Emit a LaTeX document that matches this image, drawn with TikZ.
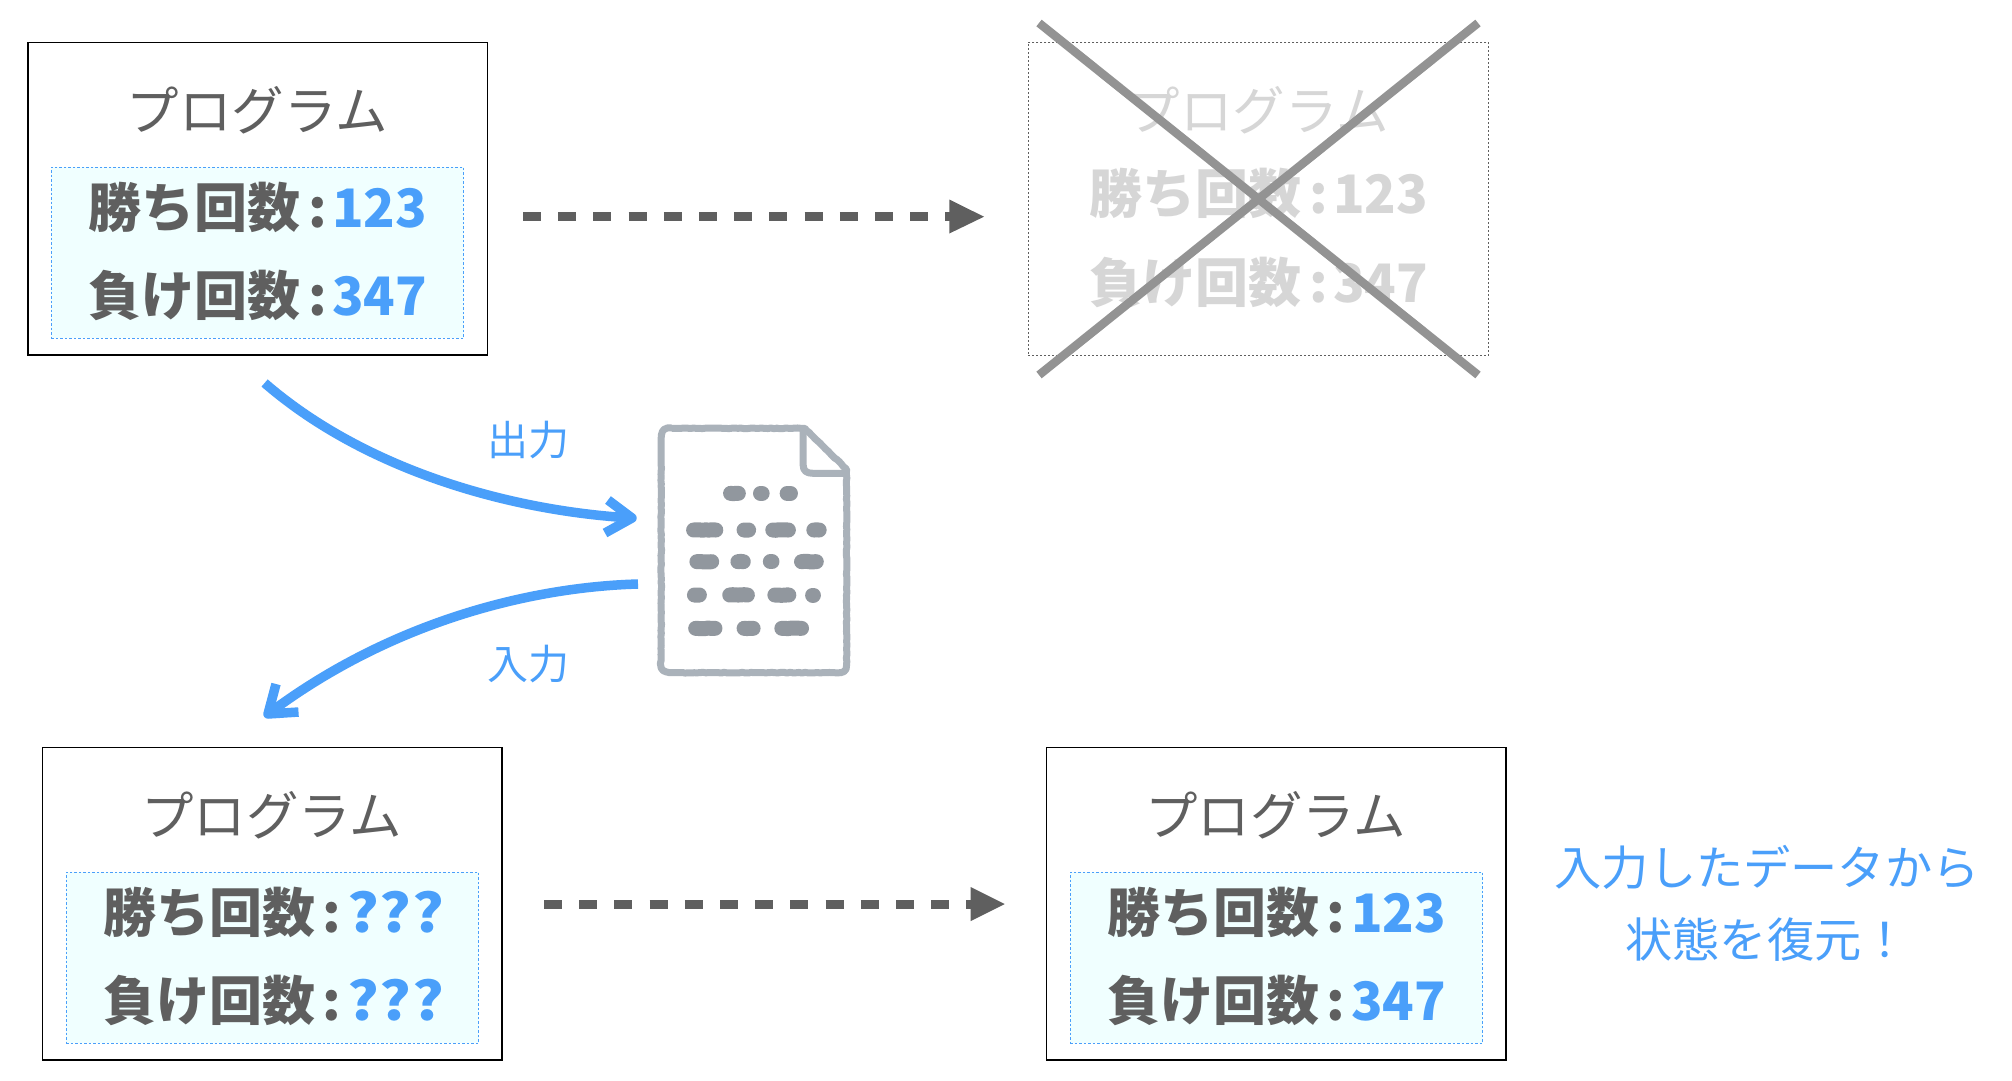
\documentclass[tikz,border=0pt]{standalone}
\usepackage{fontspec}
\setmainfont{Noto Sans CJK JP}
\usetikzlibrary{decorations.pathmorphing}
\definecolor{txtgray}{HTML}{5F5F5F}
\definecolor{ghost}{HTML}{D6D6D6}
\definecolor{crossgray}{HTML}{939393}
\definecolor{accent}{HTML}{4A9FFA}
\definecolor{innerfill}{HTML}{F0FFFF}
\definecolor{docline}{HTML}{AAB2BA}
\definecolor{docdot}{HTML}{91979E}
\newcommand{\fsz}[1]{\fontsize{#1pt}{#1pt}\selectfont}
\newcommand{\numtxt}[1]{{\addfontfeature{FakeStretch=0.98}#1}}
\newcommand{\qtxt}{{\addfontfeature{FakeStretch=1.12}?\hspace{1pt}?\hspace{1pt}?}}
\newcommand{\rowtext}[3]{#1\hspace{8pt}:\hspace{5.5pt}\textcolor{#3}{#2}}
\tikzset{
  outerbox/.style={draw=black,line width=1.5pt,fill=white,minimum width=459.5pt,minimum height=312.5pt,inner sep=0pt},
  innerbox/.style={draw=accent,line width=1pt,dash pattern=on 2.5pt off 2pt,fill=innerfill,minimum width=412.5pt,minimum height=171pt,inner sep=0pt},
  ghostbox/.style={draw=txtgray,line width=1pt,dash pattern=on 2pt off 2pt,fill=white,minimum width=460.5pt,minimum height=313pt,inner sep=0pt},
  titletext/.style={text=txtgray,font=\fsz{52.5},inner sep=0pt,anchor=base},
  rowlabel/.style={text=txtgray,font=\fsz{53}\bfseries,inner sep=0pt,anchor=base west},
  ghosttitle/.style={titletext,text=ghost},
  ghostrow/.style={rowlabel,text=ghost},
  bluetext/.style={text=accent,inner sep=0pt,anchor=base},
  dasharrow/.style={draw=txtgray,line width=9pt,dash pattern=on 18pt off 17.2pt},
  dashhead/.style={fill=txtgray,draw=none},
  flow/.style={draw=accent,line width=9.5pt},
  flowhead/.style={draw=accent,line width=9.5pt,line join=round},
  crossline/.style={draw=crossgray,line width=8.5pt},
  docout/.style={draw=docline,line width=7pt,line join=round},
  docmark/.style={draw=docdot,line width=15pt,line cap=round},
}
\newcommand{\progbox}[5]{%
  \begin{scope}[shift={(#2,#3)}]
    \node[outerbox] (#1box) at (257.5,198.5) {};
    \node[innerbox] (#1inner) at (257.5,252.5) {};
    \node[titletext] (#1title) at (257,130) {プログラム};
    \node[rowlabel] (#1rowa) at (88,227) {\rowtext{勝ち回数}{#4}{accent}};
    \node[rowlabel] (#1rowb) at (88,315) {\rowtext{負け回数}{#5}{accent}};
  \end{scope}}
\begin{document}
\begin{tikzpicture}[x=1pt,y=-1pt]
\useasboundingbox (0,0) rectangle (2012,1080);
\fill[white] (0,0) rectangle (2012,1080);
\pgfmathsetseed{7}

\progbox{a}{0}{0}{\numtxt{123}}{\numtxt{347}}
\progbox{c}{14.8}{705}{\qtxt}{\qtxt}
\progbox{d}{1018.8}{705}{\numtxt{123}}{\numtxt{347}}

% crossed-out program
\node[ghostbox] (bbox) at (1258.5,198.5) {};
\node[ghosttitle] (btitle) at (1258,130) {プログラム};
\node[ghostrow] (browa) at (1089,213) {\rowtext{勝ち回数}{\numtxt{123}}{ghost}};
\node[ghostrow] (browb) at (1089,302) {\rowtext{負け回数}{\numtxt{347}}{ghost}};
\coordinate (xa) at (1039,23);
\coordinate (xb) at (1478,375);
\coordinate (xc) at (1478,23);
\coordinate (xd) at (1039,375);
\draw[crossline] (xa) -- (xb);
\draw[crossline] (xc) -- (xd);

% dashed arrows
\coordinate (da) at (523,216.7);
\coordinate (db) at (952,216.7);
\draw[dasharrow] (da) -- (db);
\fill[dashhead] (949.3,199.5) -- (984,216.7) -- (949.3,233.5) -- cycle;
\coordinate (dc) at (544,904);
\coordinate (dd) at (974,904);
\draw[dasharrow] (dc) -- (dd);
\fill[dashhead] (970.7,887) -- (1004.7,904) -- (970.7,921) -- cycle;

% curved arrows
\coordinate (oa) at (264.6,383);
\coordinate (ob) at (632,518);
\coordinate (ob1) at (608,500);
\coordinate (ob2) at (605,533);
\draw[flow] (oa) .. controls (365,470) and (510,511) .. (ob);
\draw[flowhead] (ob1) -- (ob) -- (ob2);
\coordinate (ia) at (638,584);
\coordinate (ib) at (268,714);
\coordinate (ib1) at (276,684);
\coordinate (ib2) at (298.5,712);
\draw[flow] (ia) .. controls (530,587) and (390,622) .. (ib);
\draw[flowhead] (ib1) -- (ib) -- (ib2);
\node[bluetext,font=\fsz{41}] (outlabel) at (528,455) {出力};
\node[bluetext,font=\fsz{41}] (inlabel) at (528,679) {入力};

% document icon
\begin{scope}[shift={(237,370)},x=0.41026pt,y=-0.33333pt,
    decoration={random steps,segment length=3pt,amplitude=0.35pt}]
  \draw[docout,decorate] (1060,175) -- (1384,175) -- (1486,298) -- (1486,880)
    .. controls (1486,900) and (1478,908) .. (1458,908) -- (1060,908)
    .. controls (1042,908) and (1034,900) .. (1034,880) -- (1034,203)
    .. controls (1034,183) and (1042,175) .. (1060,175) -- cycle;
  \draw[docout] (1380,175) -- (1380,285) .. controls (1380,303) and (1388,310) .. (1405,310) -- (1486,310);
  \foreach \r/\a/\b in {370/1203/1222,370/1276/1280,370/1341/1349,
      480/1113/1167,480/1236/1247,480/1306/1344,480/1406/1419,
      575/1121/1157,575/1221/1234,575/1300/1304,575/1376/1412,
      675/1115/1127,675/1201/1244,675/1311/1345,675/1403/1405,
      775/1118/1165,775/1236/1258,775/1328/1376}
    \draw[docmark,decorate] (\a,\r) -- (\b,\r);
\end{scope}

% remark
\node[bluetext,font=\fsz{47.2}] (notea) at (1767,885) {入力したデータから};
\node[bluetext,font=\fsz{47.2}] (noteb) at (1767,957) {状態を復元！};
\end{tikzpicture}
\end{document}
